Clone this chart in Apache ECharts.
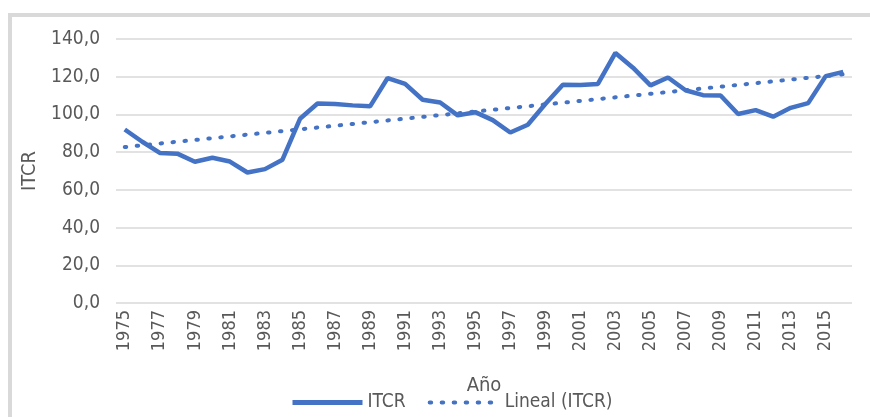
<!DOCTYPE html>
<html>
<head>
<meta charset="utf-8">
<script src="https://cdn.jsdelivr.net/npm/echarts@6/dist/echarts.min.js"></script>
<style>
  html, body { margin: 0; padding: 0; background: #fff; }
  #frame { position: absolute; left: 8px; top: 13px; width: 870px; height: 420px; border-left: 4px solid #d9d9d9; border-top: 4px solid #d9d9d9; }
  #chart { position: absolute; left: 0; top: 0; width: 870px; height: 417px; }
</style>
</head>
<body>
<div id="frame"></div>
<div id="chart"></div>
<script>
// años del eje x
const years = []
for (let y = 1975; y <= 2016; y++) years.push(String(y))

const itcr = [
  92.0, 85.5, 79.6, 79.2, 74.9, 77.0, 75.0, 69.2, 71.0, 76.0,
  97.7, 105.8, 105.5, 104.8, 104.3, 119.3, 116.2, 107.8, 106.3, 99.5,
  101.2, 97.0, 90.4, 94.5, 105.5, 115.7, 115.6, 116.2, 132.6, 124.8,
  115.4, 119.6, 112.8, 110.2, 110.0, 100.2, 102.3, 98.8, 103.5, 106.0,
  120.3, 122.6
]

// extremos de la línea de tendencia (Excel "Lineal")
const trendStart = ['1975', 82.7]
const trendEnd = ['2016', 121.3]

const yTicks = { min: 0, max: 140, interval: 20 }

const myChart = echarts.init(document.getElementById('chart'))
const font = '"DejaVu Sans Condensed", "Noto Sans", sans-serif'
const grey = '#595959'
const option = {
  animation: false,
  textStyle: { fontFamily: font },
  grid: { left: 116, right: 18, top: 39, bottom: 114 },
  legend: {
    bottom: 0,
    left: 285,
    itemWidth: 70,
    itemHeight: 14,
    itemGap: 22,
    itemStyle: { opacity: 0 },
    textStyle: { color: grey, fontSize: 19, fontFamily: font },
    data: [
      { name: 'ITCR', lineStyle: { width: 5 } },
      { name: 'Lineal (ITCR)', lineStyle: { width: 4, type: [1.5, 10.5], cap: 'round' } }
    ]
  },
  xAxis: {
    type: 'category',
    data: years,
    boundaryGap: true,
    name: 'Año',
    nameLocation: 'middle',
    nameGap: 73,
    nameTextStyle: { color: grey, fontSize: 20, fontFamily: font },
    axisLine: { show: false },
    axisTick: { show: false },
    axisLabel: { interval: 1, rotate: 90, color: grey, fontSize: 18, margin: 7 }
  },
  yAxis: {
    type: 'value',
    min: yTicks.min,
    max: yTicks.max,
    interval: yTicks.interval,
    name: 'ITCR',
    nameLocation: 'middle',
    nameGap: 76,
    nameTextStyle: { color: grey, fontSize: 20, fontFamily: font },
    axisLabel: {
      color: grey,
      fontSize: 19,
      margin: 16,
      formatter: function (v) { return v.toFixed(1).replace('.', ',') }
    },
    splitLine: { lineStyle: { color: '#d9d9d9', width: 1.5 } }
  },
  series: [
    {
      name: 'ITCR',
      type: 'line',
      data: itcr,
      symbol: 'none',
      lineStyle: { color: '#4472c4', width: 4.5 },
      itemStyle: { color: '#4472c4' }
    },
    {
      name: 'Lineal (ITCR)',
      type: 'line',
      data: [trendStart, trendEnd],
      symbol: 'none',
      lineStyle: { color: '#4472c4', width: 4, type: [1.5, 10.5], cap: 'round' },
      itemStyle: { color: '#4472c4' }
    }
  ]
}
myChart.setOption(option, true)
</script>
</body>
</html>
